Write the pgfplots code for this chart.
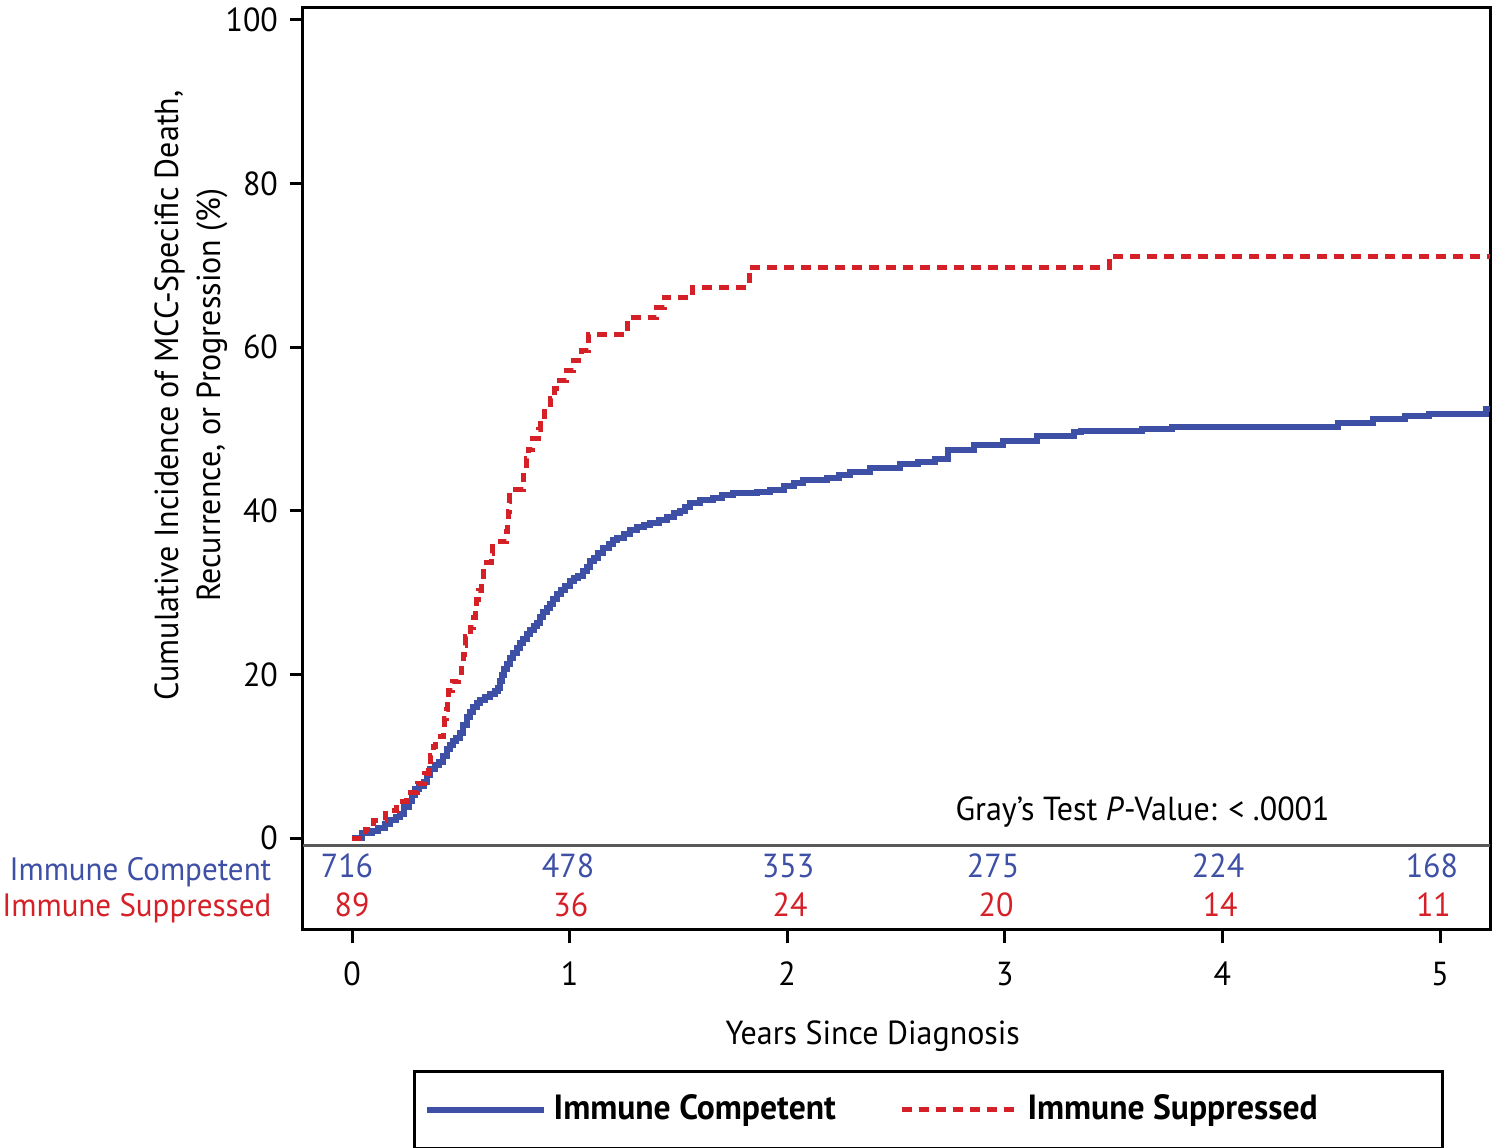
\documentclass[border=0pt]{standalone}
\usepackage{fontspec}
\setmainfont[FakeStretch=0.96]{PT Sans}
\usepackage{pgfplots}
\pgfplotsset{compat=1.18}
\definecolor{icblue}{RGB}{62,80,166}
\definecolor{isred}{RGB}{214,32,40}
\begin{document}
\begin{tikzpicture}
\useasboundingbox (-90.9pt,-65.4pt) rectangle (357pt,279pt);
\begin{axis}[
  at={(0pt,0pt)}, anchor=south west, scale only axis,
  width=356.1pt, height=276.6pt,
  xmin=-0.2252, xmax=5.2298, ymin=-11.22, ymax=101.46,
  axis line style={black, line width=0.9pt},
  tick pos=left, tick align=outside,
  major tick length=4pt,
  tick style={black, line width=0.9pt},
  xtick={0,1,2,3,4,5}, ytick={0,20,40,60,80,100},
  /pgf/number format/assume math mode=true,
  tick label style={font=\fontsize{10}{12}\selectfont},
  xticklabel style={yshift=-2pt},
  extra y ticks={-0.85}, extra y tick labels={},
  extra y tick style={grid=major, major grid style={black!65, line width=0.9pt}, major tick length=0pt},
  xlabel={Years Since Diagnosis},
  xlabel style={font=\fontsize{10}{12}\selectfont, at={(axis description cs:0.480,-0.115)}, anchor=center},
  ylabel={Cumulative Incidence of MCC-Specific Death,\\Recurrence, or Progression (\%)},
  ylabel style={font=\fontsize{10}{12.6}\selectfont, align=center, at={(axis description cs:-0.0944,0.580)}, anchor=center},
  clip=false,
  legend columns=2,
  legend cell align=left,
  legend style={at={(axis description cs:0.527,-0.1518)}, anchor=north, draw=black, line width=0.9pt,
    font=\bfseries\fontsize{10.5}{12}\selectfont,
    /tikz/every even column/.append style={column sep=17pt},
    inner xsep=3pt, inner ysep=5pt},
  legend image code/.code={\draw[#1] (0pt,0pt) -- (35pt,0pt);},
]
\addplot[const plot, color=icblue, line width=1.8pt] coordinates {
(0,0) (0.045,0.6) (0.09,0.9) (0.12,1.2) (0.15,1.7) (0.175,2.2) (0.20,2.6) (0.22,3.0)
(0.24,3.8) (0.26,4.6) (0.275,5.3) (0.29,6.0) (0.31,6.4) (0.33,6.9) (0.345,7.7) (0.36,8.5)
(0.38,8.9) (0.40,9.3) (0.42,10.1) (0.435,10.9) (0.45,11.4) (0.465,11.9) (0.48,12.3) (0.495,12.8)
(0.51,13.8) (0.527,14.8) (0.54,15.4) (0.557,16.0) (0.575,16.5) (0.59,16.9) (0.61,17.2) (0.635,17.6)
(0.655,18.0) (0.672,18.4) (0.68,19.2) (0.69,20.0) (0.70,20.7) (0.712,21.3) (0.725,22.0) (0.74,22.6)
(0.757,23.3) (0.77,23.9) (0.785,24.4) (0.803,24.9) (0.818,25.5) (0.835,25.9) (0.85,26.3) (0.865,27.0)
(0.88,27.7) (0.895,28.1) (0.91,28.6) (0.925,29.2) (0.941,29.8) (0.96,30.3) (0.98,30.8) (1.0,31.4)
(1.02,31.8) (1.04,32.1) (1.063,32.6) (1.08,33.2) (1.094,33.9) (1.11,34.3) (1.13,34.8) (1.155,35.5)
(1.18,36.0) (1.2,36.4) (1.216,36.7) (1.25,37.2) (1.278,37.7) (1.31,38.0) (1.34,38.3) (1.37,38.5)
(1.41,38.9) (1.446,39.3) (1.48,39.7) (1.507,40.0) (1.53,40.5) (1.553,41.0) (1.6,41.3) (1.66,41.6)
(1.70,41.9) (1.752,42.2) (1.86,42.3) (1.92,42.6) (1.983,43.0) (2.03,43.4) (2.074,43.8) (2.181,44.0)
(2.24,44.4) (2.289,44.8) (2.38,45.3) (2.52,45.7) (2.60,46.0) (2.68,46.3) (2.74,47.5) (2.86,48.0)
(2.99,48.5) (3.15,49.1) (3.32,49.6) (3.35,49.8) (3.63,50.0) (3.77,50.2) (3.97,50.3) (4.53,50.8)
(4.69,51.2) (4.84,51.6) (4.95,51.9) (5.21,52.4) (5.229,52.4)
};
\addlegendentry{Immune Competent}
\addplot[const plot, color=isred, line width=1.5pt, dash pattern=on 3pt off 2.1pt] coordinates {
(0,0) (0.06,1.1) (0.10,2.2) (0.155,3.4) (0.205,4.5) (0.25,5.6) (0.30,6.7) (0.335,7.9)
(0.35,9.0) (0.36,10.1) (0.375,11.2) (0.385,12.4) (0.42,13.5) (0.425,14.6) (0.432,15.7) (0.437,16.9)
(0.445,18.0) (0.46,19.1) (0.49,20.2) (0.505,21.3) (0.513,22.5) (0.517,23.6) (0.522,24.7) (0.545,25.8)
(0.56,27.0) (0.566,28.1) (0.573,29.2) (0.58,30.3) (0.595,31.5) (0.605,32.6) (0.62,33.7) (0.64,34.8)
(0.645,36.2) (0.71,37.5) (0.715,38.7) (0.72,39.9) (0.723,41.1) (0.726,42.6) (0.787,43.9) (0.79,45.2)
(0.80,46.4) (0.81,47.5) (0.83,48.8) (0.855,50.0) (0.865,51.2) (0.885,52.5) (0.91,53.7) (0.93,54.9)
(0.955,55.9) (0.985,57.1) (1.02,58.4) (1.055,59.6) (1.085,61.5) (1.265,63.6) (1.40,64.8) (1.435,66.1)
(1.565,67.3) (1.825,69.8) (3.48,71.1) (5.229,71.1)
};
\addlegendentry{Immune Suppressed\hspace*{32.5pt}}
\node[anchor=west, inner sep=0pt, font=\fontsize{10}{12}\selectfont] at (axis cs:2.771,3.17) {Gray’s Test \textit{P}-Value: < .0001};
\node[anchor=east, inner sep=0pt, text=icblue, font=\fontsize{9.7}{12}\selectfont] at (axis cs:-0.368,-4.15) {Immune Competent};
\node[anchor=east, inner sep=0pt, text=isred, font=\fontsize{9.7}{12}\selectfont] at (axis cs:-0.368,-8.54) {Immune Suppressed};
\begin{scope}[every node/.style={text=icblue, font=\fontsize{10}{12}\selectfont}]
\node at (axis cs:-0.023,-3.41) {716};
\node at (axis cs:0.993,-3.41) {478};
\node at (axis cs:2.004,-3.41) {353};
\node at (axis cs:2.946,-3.41) {275};
\node at (axis cs:3.98,-3.41) {224};
\node at (axis cs:4.963,-3.41) {168};
\end{scope}
\begin{scope}[every node/.style={text=isred, font=\fontsize{10}{12}\selectfont}]
\node at (axis cs:0,-8.17) {89};
\node at (axis cs:1.006,-8.17) {36};
\node at (axis cs:2.013,-8.17) {24};
\node at (axis cs:2.96,-8.17) {20};
\node at (axis cs:3.99,-8.17) {14};
\node at (axis cs:4.97,-8.17) {11};
\end{scope}
\end{axis}
\end{tikzpicture}
\end{document}
